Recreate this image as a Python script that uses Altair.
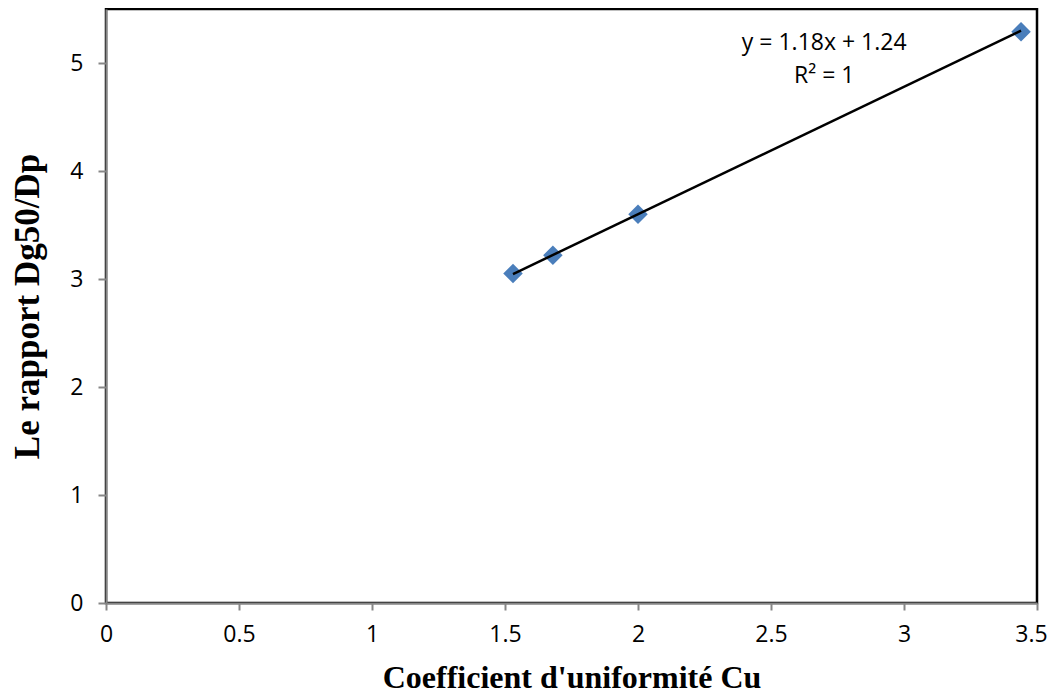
import altair as alt
import pandas as pd

# Data
cu = [1.53, 1.68, 2.0, 3.44]
ratio = [3.05, 3.22, 3.60, 5.29]

trend_x = [1.53, 3.44]
slope = 1.18
intercept = 1.24
trend_y = [slope * v + intercept for v in trend_x]

ann_text = ["y = 1.18x + 1.24", "R² = 1"]
ann_x = [2.70, 2.70]
ann_y = [5.185, 4.88]

x_ticks = [0, 0.5, 1, 1.5, 2, 2.5, 3, 3.5]
y_ticks = [0, 1, 2, 3, 4, 5]

pts = pd.DataFrame({"cu": cu, "ratio": ratio})
trend = pd.DataFrame({"cu": trend_x, "ratio": trend_y})
ann = pd.DataFrame({"cu": ann_x, "ratio": ann_y, "t": ann_text})

tick_font = "Open Sans"
title_font = "Liberation Serif"
gray = "#868686"

xscale = alt.Scale(domain=[0, 3.5], nice=False, zero=False)
yscale = alt.Scale(domain=[0, 5.5], nice=False, zero=False)

xaxis = alt.Axis(
    title="Coefficient d'uniformité Cu",
    values=x_ticks,
    format="~g",
    grid=False,
    domainColor=gray,
    domainWidth=2,
    tickColor=gray,
    tickWidth=2,
    tickSize=7,
    labelFont=tick_font,
    labelFontSize=23,
    labelColor="black",
    labelPadding=13,
    labelFlush=False,
    labelOffset=alt.ExprRef("datum.value == 3.5 ? -6 : 0"),
    titleFont=title_font,
    titleFontSize=32,
    titleFontWeight="bold",
    titleColor="black",
    titlePadding=16,
)
yaxis = alt.Axis(
    title="Le rapport Dg50/Dp",
    values=y_ticks,
    format="~g",
    grid=False,
    domainColor=gray,
    domainWidth=2,
    tickColor=gray,
    tickWidth=2,
    tickSize=8,
    labelFont=tick_font,
    labelFontSize=23,
    labelColor="black",
    labelPadding=15,
    labelFlush=False,
    titleFont=title_font,
    titleFontSize=35,
    titleFontWeight="bold",
    titleColor="black",
    titlePadding=24,
)

line = alt.Chart(trend).mark_line(color="black", strokeWidth=2.5).encode(
    x=alt.X("cu:Q", scale=xscale, axis=xaxis),
    y=alt.Y("ratio:Q", scale=yscale, axis=yaxis),
)

points = alt.Chart(pts).mark_point(
    shape="diamond", filled=True, color="#4A7EBB", size=380, opacity=1
).encode(
    x=alt.X("cu:Q", scale=xscale),
    y=alt.Y("ratio:Q", scale=yscale),
)

text = alt.Chart(ann).mark_text(
    font=tick_font, fontSize=23, color="black", align="center", baseline="middle"
).encode(
    x=alt.X("cu:Q", scale=xscale),
    y=alt.Y("ratio:Q", scale=yscale),
    text="t:N",
)

chart = (
    alt.layer(points, line, text)
    .properties(
        width=931,
        height=594,
        autosize=alt.AutoSizeParams(type="none"),
        padding={"left": 98, "top": 1, "right": 11, "bottom": 92},
        background="white",
    )
    .configure_view(stroke="black", strokeWidth=2.5)
)

chart.save("out.html", embed_options={"renderer": "svg", "actions": False})
